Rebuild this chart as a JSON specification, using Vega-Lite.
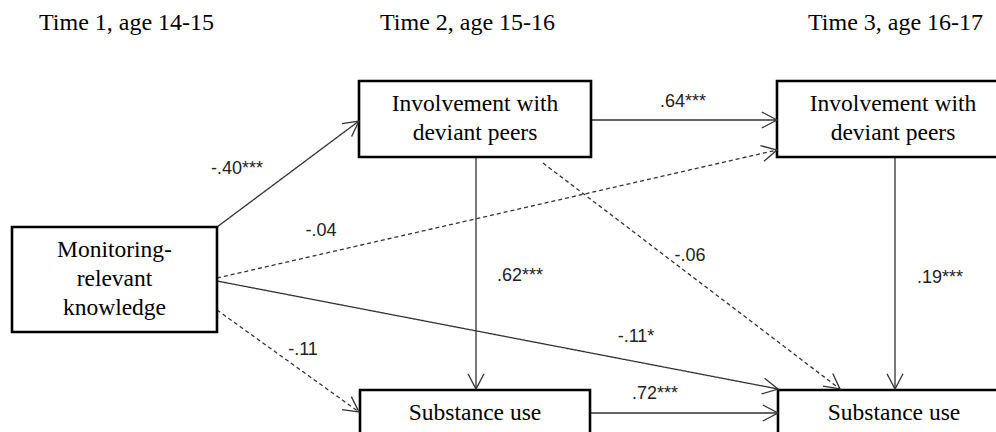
{
  "$schema": "https://vega.github.io/schema/vega-lite/v6.json",
  "width": 996,
  "height": 432,
  "autosize": {"type": "fit", "contains": "padding"},
  "padding": 0,
  "background": "white",
  "config": {"view": {"stroke": null}},
  "datasets": {
    "edges": [
      {"path": "Monitoring -> Involvement T2", "style": "solid", "x": 217, "y": 227, "x2": 359, "y2": 121, "angle": 323.3},
      {"path": "Involvement T2 -> Involvement T3", "style": "solid", "x": 591, "y": 120, "x2": 777, "y2": 120, "angle": 0},
      {"path": "Monitoring -> Involvement T3", "style": "dashed", "x": 217, "y": 278, "x2": 777, "y2": 150, "angle": 347.1},
      {"path": "Monitoring -> Substance T3", "style": "solid", "x": 217, "y": 281, "x2": 778, "y2": 389, "angle": 10.9},
      {"path": "Monitoring -> Substance T2", "style": "dashed", "x": 217, "y": 310, "x2": 359, "y2": 412, "angle": 35.7},
      {"path": "Involvement T2 -> Substance T2", "style": "solid", "x": 476, "y": 157, "x2": 476, "y2": 389, "angle": 90},
      {"path": "Involvement T2 -> Substance T3", "style": "dashed", "x": 543, "y": 163, "x2": 840, "y2": 389, "angle": 37.3},
      {"path": "Substance T2 -> Substance T3", "style": "solid", "x": 590, "y": 413, "x2": 778, "y2": 413, "angle": 0},
      {"path": "Involvement T3 -> Substance T3", "style": "solid", "x": 895, "y": 157, "x2": 895, "y2": 389, "angle": 90}
    ],
    "boxes": [
      {"node": "Monitoring-\nrelevant\nknowledge", "x": 12, "x2": 217, "y": 227, "y2": 332, "cx": 114.5, "cy": 250},
      {"node": "Involvement with\ndeviant peers", "x": 359, "x2": 591, "y": 81, "y2": 157, "cx": 475, "cy": 104},
      {"node": "Involvement with\ndeviant peers", "x": 777, "x2": 1009, "y": 81, "y2": 157, "cx": 893, "cy": 104},
      {"node": "Substance use", "x": 360, "x2": 590, "y": 390, "y2": 437, "cx": 475, "cy": 413},
      {"node": "Substance use", "x": 778, "x2": 1010, "y": 390, "y2": 437, "cx": 894, "cy": 413}
    ],
    "labels": [
      {"label": "-.40***", "x": 237, "y": 169},
      {"label": ".64***", "x": 683, "y": 102},
      {"label": "-.04", "x": 321, "y": 231},
      {"label": ".62***", "x": 520, "y": 276},
      {"label": "-.06", "x": 690, "y": 256},
      {"label": ".19***", "x": 940, "y": 278},
      {"label": "-.11*", "x": 636, "y": 337},
      {"label": "-.11", "x": 303, "y": 350},
      {"label": ".72***", "x": 655, "y": 394}
    ],
    "headers": [
      {"header": "Time 1, age 14-15", "x": 39, "y": 30},
      {"header": "Time 2, age 15-16", "x": 380, "y": 30},
      {"header": "Time 3, age 16-17", "x": 808, "y": 30}
    ]
  },
  "encoding": {},
  "layer": [
    {
      "data": {"name": "edges"},
      "mark": {"type": "rule", "color": "#333333", "strokeWidth": 1.3},
      "encoding": {
        "x": {"field": "x", "type": "quantitative", "scale": {"domain": [0, 996], "nice": false, "zero": false}, "axis": null},
        "y": {"field": "y", "type": "quantitative", "scale": {"domain": [0, 432], "nice": false, "zero": false, "reverse": true}, "axis": null},
        "x2": {"field": "x2"},
        "y2": {"field": "y2"},
        "strokeDash": {"field": "style", "type": "nominal", "scale": {"domain": ["solid", "dashed"], "range": [[1, 0], [4, 3]]}, "legend": null}
      }
    },
    {
      "data": {"name": "boxes"},
      "mark": {"type": "rect", "fill": "white", "stroke": "black", "strokeWidth": 2.6, "clip": true},
      "encoding": {
        "x": {"field": "x", "type": "quantitative"},
        "x2": {"field": "x2"},
        "y": {"field": "y", "type": "quantitative"},
        "y2": {"field": "y2"}
      }
    },
    {
      "data": {"name": "edges"},
      "mark": {"type": "point", "shape": "M-1.9,-1L0,0L-1.9,1", "filled": false, "size": 256, "color": "#333333", "strokeWidth": 1.3, "opacity": 1},
      "encoding": {
        "x": {"field": "x2", "type": "quantitative"},
        "y": {"field": "y2", "type": "quantitative"},
        "angle": {"field": "angle", "type": "quantitative", "scale": null}
      }
    },
    {
      "data": {"name": "boxes"},
      "mark": {"type": "text", "font": "Liberation Serif", "fontSize": 23.5, "lineBreak": "\n", "lineHeight": 29, "align": "center", "baseline": "middle", "color": "black", "clip": true},
      "encoding": {
        "x": {"field": "cx", "type": "quantitative"},
        "y": {"field": "cy", "type": "quantitative"},
        "text": {"field": "node"}
      }
    },
    {
      "data": {"name": "labels"},
      "mark": {"type": "text", "font": "Liberation Sans", "fontSize": 18, "align": "center", "baseline": "middle", "color": "#222222"},
      "encoding": {
        "x": {"field": "x", "type": "quantitative"},
        "y": {"field": "y", "type": "quantitative"},
        "text": {"field": "label"}
      }
    },
    {
      "data": {"name": "headers"},
      "mark": {"type": "text", "font": "Liberation Serif", "fontSize": 24, "align": "left", "baseline": "alphabetic", "color": "black"},
      "encoding": {
        "x": {"field": "x", "type": "quantitative"},
        "y": {"field": "y", "type": "quantitative"},
        "text": {"field": "header"}
      }
    }
  ]
}
